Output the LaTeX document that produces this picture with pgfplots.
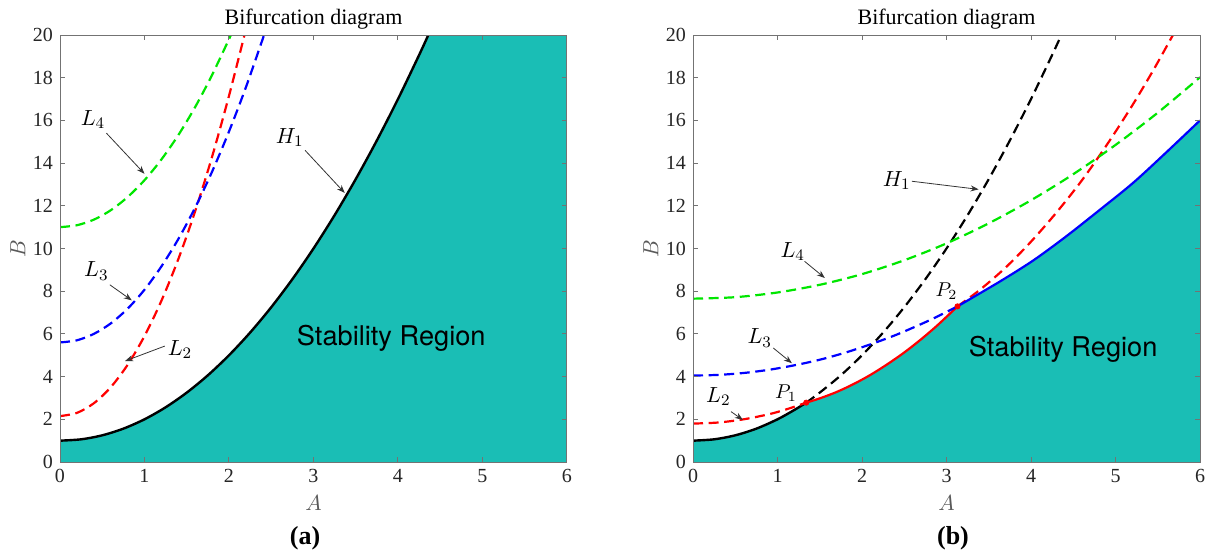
\documentclass[border=0pt]{standalone}
\usepackage{fontspec}
\setmainfont{Liberation Serif}
\newfontfamily\helv{TeX Gyre Heros}
\usepackage{pgfplots}
\pgfplotsset{compat=1.18}
\usetikzlibrary{arrows.meta}
\definecolor{teal1}{RGB}{26,190,181}
\definecolor{mgreen}{RGB}{0,230,0}

\pgfplotsset{
 bif/.style={
  scale only axis, width=253.5pt, height=213.5pt,
  xmin=0,xmax=6,ymin=0,ymax=20,
  xtick={0,...,6}, ytick={0,2,...,20},
  tick align=inside, major tick length=2.5pt,
  axis line style={black!55, line width=0.5pt}, tick style={black!55, line width=0.5pt},
  tick label style={font=\fontsize{10}{12}\selectfont, text=black!85},
  /pgf/number format/assume math mode=true,
  title={Bifurcation diagram},
  every axis title shift=0pt,
  title style={font=\fontsize{11}{13}\selectfont, at={(0.5,1)}, anchor=base, yshift=5.5pt},
  xlabel={$A$}, ylabel={$B$},
  label style={font=\fontsize{10.5}{12}\selectfont, text=black!65},
  xlabel style={at={(axis description cs:0.5,0)}, anchor=base, yshift=-24pt},
  ylabel style={at={(axis description cs:-0.083,0.5)}, anchor=center},
  axis on top,
 },
}
\tikzset{
 dsh/.style={line width=1.1pt, dash pattern=on 5pt off 2.8pt},
 ann/.style={-{Stealth[length=4pt,width=3pt]}, line width=0.4pt, black!80},
 lab/.style={font=\fontsize{11}{13}\selectfont},
}

\begin{document}
\begin{tikzpicture}
\useasboundingbox (0,0) rectangle (607pt,279pt);
% ---------------- (a)
\begin{axis}[bif, at={(30pt,48pt)}, anchor=south west]
\addplot[fill=teal1, draw=none] coordinates {
(0,1) (0.25,1.0625) (0.5,1.25) (0.75,1.5625) (1,2) (1.25,2.5625) (1.5,3.25) (1.75,4.0625) (2,5) (2.25,6.0625) (2.5,7.25) (2.75,8.5625) (3,10) (3.25,11.5625) (3.5,13.25) (3.75,15.0625) (4,17) (4.25,19.0625) (4.359,20) (6,20)} \closedcycle;
\addplot[black, line width=1.2pt, smooth] coordinates {
(0,1) (0.25,1.0625) (0.5,1.25) (0.75,1.5625) (1,2) (1.25,2.5625) (1.5,3.25) (1.75,4.0625) (2,5) (2.25,6.0625) (2.5,7.25) (2.75,8.5625) (3,10) (3.25,11.5625) (3.5,13.25) (3.75,15.0625) (4,17) (4.25,19.0625) (4.359,20)};
\addplot[red, dsh, smooth] coordinates {
(0,2.15) (0.2,2.30) (0.4,2.75) (0.6,3.50) (0.8,4.55) (1.0,5.90) (1.2,7.55) (1.4,9.50) (1.6,11.75) (1.8,14.30) (2.0,17.15) (2.183,20)};
\addplot[blue, dsh, smooth] coordinates {
(0,5.6) (0.2,5.70) (0.4,6.00) (0.6,6.49) (0.8,7.18) (1.0,8.07) (1.2,9.16) (1.4,10.44) (1.6,11.92) (1.8,13.60) (2.0,15.48) (2.2,17.55) (2.415,20)};
\addplot[mgreen, dsh, smooth] coordinates {
(0,11.0) (0.2,11.09) (0.4,11.35) (0.6,11.79) (0.8,12.41) (1.0,13.2) (1.2,14.17) (1.4,15.31) (1.6,16.63) (1.8,18.13) (2.023,20)};
\node[lab] at (axis cs:0.39,16.05) {$L_4$};
\draw[ann] (axis cs:0.55,15.4) -- (axis cs:1.0,13.5);
\node[lab] at (axis cs:2.72,15.2) {$H_1$};
\draw[ann] (axis cs:2.9,14.6) -- (axis cs:3.37,12.6);
\node[lab] at (axis cs:0.43,8.95) {$L_3$};
\draw[ann] (axis cs:0.59,8.3) -- (axis cs:0.85,7.57);
\node[lab] at (axis cs:1.42,5.28) {$L_2$};
\draw[ann] (axis cs:1.24,5.43) -- (axis cs:0.77,4.73);
\node[font=\helv\fontsize{13.6}{16}\selectfont] at (axis cs:3.92,5.8) {Stability Region};
\end{axis}
% ---------------- (b)
\begin{axis}[bif, at={(346.5pt,48pt)}, anchor=south west]
\addplot[fill=teal1, draw=none] coordinates {
(0,1) (0.25,1.0625) (0.5,1.25) (0.75,1.5625) (1,2) (1.2,2.44) (1.34,2.78)
(1.5,2.98) (1.7,3.28) (1.9,3.65) (2.1,4.08) (2.3,4.58) (2.5,5.13) (2.7,5.75) (2.9,6.43) (3.13,7.29)
(3.63,8.45) (4.03,9.45) (4.42,10.58) (4.82,11.83) (5.21,13.08) (5.6,14.5) (6,16)} \closedcycle;
% H1
\addplot[black, line width=1.2pt, smooth] coordinates {
(0,1) (0.25,1.0625) (0.5,1.25) (0.75,1.5625) (1,2) (1.2,2.44) (1.34,2.78)};
\addplot[black, dsh, smooth] coordinates {
(1.34,2.78) (1.5,3.25) (1.75,4.0625) (2,5) (2.25,6.0625) (2.5,7.25) (2.75,8.5625) (3,10) (3.25,11.5625) (3.5,13.25) (3.75,15.0625) (4,17) (4.25,19.0625) (4.359,20)};
% L2
\addplot[red, dsh, smooth] coordinates {
(0,1.8) (0.3,1.85) (0.6,2.0) (0.9,2.24) (1.1,2.46) (1.34,2.78)};
\addplot[red, line width=1.1pt, smooth] coordinates {
(1.34,2.78) (1.5,2.98) (1.7,3.28) (1.9,3.65) (2.1,4.08) (2.3,4.58) (2.5,5.13) (2.7,5.75) (2.9,6.43) (3.13,7.29)};
\addplot[red, dsh, smooth] coordinates {
(3.13,7.29) (3.4,8.08) (3.7,9.11) (4.0,10.32) (4.3,11.68) (4.6,13.18) (4.9,14.87) (5.2,16.71) (5.45,18.37) (5.68,20)};
% L3
\addplot[blue, dsh, smooth] coordinates {
(0,4.05) (0.3,4.08) (0.6,4.17) (0.9,4.32) (1.2,4.53) (1.5,4.79) (1.8,5.12) (2.1,5.51) (2.4,5.95) (2.7,6.46) (2.9,6.83) (3.13,7.29)};
\addplot[blue, line width=1.1pt, smooth] coordinates {
(3.13,7.29) (3.63,8.45) (4.03,9.45) (4.42,10.58) (4.82,11.83) (5.21,13.08) (5.6,14.5) (6,16)};
% L4
\addplot[mgreen, dsh, smooth] coordinates {
(0,7.65) (0.5,7.72) (1.0,7.94) (1.5,8.30) (2.0,8.80) (2.5,9.45) (3.0,10.24) (3.5,11.18) (4.0,12.26) (4.5,13.48) (5.0,14.85) (5.5,16.36) (6.0,18.02)};
% points
\addplot[only marks, mark=*, red, mark size=1.3pt] coordinates {(1.34,2.78) (3.13,7.29)};
\node[lab] at (axis cs:2.41,13.2) {$H_1$};
\draw[ann] (axis cs:2.59,13.15) -- (axis cs:3.38,12.77);
\node[lab] at (axis cs:1.18,9.87) {$L_4$};
\draw[ann] (axis cs:1.32,9.4) -- (axis cs:1.56,8.62);
\node[lab] at (axis cs:0.79,5.81) {$L_3$};
\draw[ann] (axis cs:0.95,5.34) -- (axis cs:1.17,4.63);
\node[lab] at (axis cs:0.3,3.07) {$L_2$};
\draw[ann] (axis cs:0.45,2.36) -- (axis cs:0.59,1.97);
\node[font=\fontsize{10}{12}\selectfont] at (axis cs:1.1,3.22) {$P_1$};
\node[font=\fontsize{10}{12}\selectfont] at (axis cs:3.0,8.0) {$P_2$};
\node[font=\helv\fontsize{13.6}{16}\selectfont] at (axis cs:4.38,5.26) {Stability Region};
\end{axis}
\node[font=\bfseries\fontsize{13}{15}\selectfont] at (152.5pt,10pt) {(a)};
\node[font=\bfseries\fontsize{13}{15}\selectfont] at (476.5pt,10pt) {(b)};
\end{tikzpicture}
\end{document}
